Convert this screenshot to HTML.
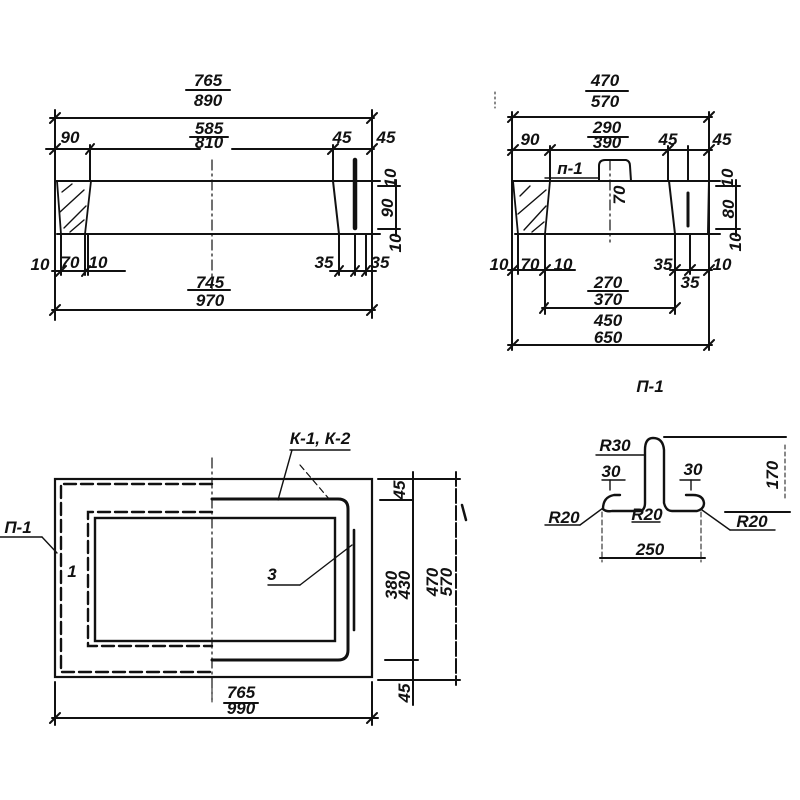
<!DOCTYPE html>
<html><head><meta charset="utf-8"><style>
html,body{margin:0;padding:0;background:#fff;}
svg{display:block}
text{font-family:"Liberation Sans","DejaVu Sans",sans-serif;font-style:italic;fill:#111;font-size:17px;font-weight:600}
</style></head><body>
<svg width="800" height="800" viewBox="0 0 800 800" xmlns="http://www.w3.org/2000/svg">
<g stroke="#111" fill="none" stroke-width="2" stroke-linecap="round">
<!-- ===== Top-left view ===== -->
<line x1="186" y1="90" x2="230" y2="90"/>
<line x1="50" y1="118" x2="374" y2="118"/>
<line x1="55" y1="110" x2="55" y2="320"/>
<line x1="372" y1="110" x2="372" y2="318"/>
<line x1="46" y1="149" x2="200" y2="149"/>
<line x1="232" y1="149" x2="374" y2="149"/>
<line x1="90" y1="145" x2="90" y2="181"/>
<line x1="333" y1="145" x2="333" y2="181"/>
<line x1="190" y1="137" x2="228" y2="137"/>
<!-- body -->
<line x1="55" y1="181" x2="380" y2="181"/>
<line x1="57" y1="234" x2="380" y2="234"/>
<path d="M57 181 L91 181 L85 234 L61 234 Z" stroke-width="1.8"/>
<path d="M62 192 L72 184 M60 212 L84 190 M64 228 L86 206 M70 232 L84 220" stroke-width="1.4"/>
<line x1="333" y1="181" x2="339" y2="234"/>
<line x1="372" y1="181" x2="372" y2="234"/>
<line x1="355" y1="160" x2="355" y2="228" stroke-width="4.5"/>
<line x1="212" y1="160" x2="212" y2="290" stroke-dasharray="10,4,2,4" stroke-width="1.2"/>
<!-- right dims -->
<line x1="378" y1="186" x2="400" y2="186"/>
<line x1="378" y1="229" x2="400" y2="229"/>
<line x1="396" y1="180" x2="396" y2="236"/>
<!-- bottom dims -->
<line x1="61" y1="234" x2="61" y2="275"/>
<line x1="85" y1="234" x2="85" y2="275"/>
<line x1="88" y1="234" x2="88" y2="275"/>
<line x1="339" y1="234" x2="339" y2="275"/>
<line x1="355" y1="234" x2="355" y2="275"/>
<line x1="366" y1="234" x2="366" y2="275"/>
<line x1="52" y1="271" x2="125" y2="271"/>
<line x1="330" y1="271" x2="376" y2="271"/>
<line x1="188" y1="290" x2="230" y2="290"/>
<line x1="52" y1="310" x2="375" y2="310"/>
<path d="M50 123 L60 113 M367 123 L377 113 M50 154 L60 144 M86 154 L94 144 M328 154 L338 144 M367 154 L377 144 M56 276 L66 266 M82 276 L90 266 M335 276 L343 266 M351 276 L359 266 M362 276 L370 266 M50 315 L60 305 M367 315 L377 305"/>

<!-- ===== Top-right view ===== -->
<line x1="586" y1="91" x2="628" y2="91"/>
<line x1="508" y1="117" x2="712" y2="117"/>
<line x1="512" y1="112" x2="512" y2="350"/>
<line x1="709" y1="112" x2="709" y2="350"/>
<line x1="508" y1="150" x2="712" y2="150"/>
<line x1="588" y1="137" x2="628" y2="137"/>
<line x1="550" y1="146" x2="550" y2="181"/>
<line x1="668" y1="146" x2="668" y2="181"/>
<line x1="688" y1="146" x2="688" y2="181"/>
<line x1="495" y1="92" x2="495" y2="108" stroke-dasharray="2,3" stroke-width="1"/>
<line x1="512" y1="181" x2="720" y2="181"/>
<line x1="515" y1="234" x2="720" y2="234"/>
<path d="M513 181 L550 181 L545 234 L518 234 Z" stroke-width="1.8"/>
<path d="M520 196 L530 186 M518 214 L546 190 M524 230 L546 206 M532 232 L544 222" stroke-width="1.4"/>
<line x1="669" y1="181" x2="675" y2="234"/>
<line x1="709" y1="181" x2="708" y2="234"/>
<line x1="688" y1="193" x2="688" y2="226" stroke-width="3"/>
<path d="M599 181 L599 166 Q599 160 605 160 L626 160 Q630 161 630 166 L631 181"/>
<line x1="545" y1="178" x2="598" y2="178" stroke-width="1.4"/>
<line x1="610" y1="160" x2="610" y2="242" stroke-dasharray="10,4,2,4" stroke-width="1.2"/>
<line x1="716" y1="186" x2="740" y2="186"/>
<line x1="716" y1="229" x2="740" y2="229"/>
<line x1="736" y1="180" x2="736" y2="236"/>
<line x1="545" y1="234" x2="545" y2="314"/>
<line x1="675" y1="234" x2="675" y2="314"/>
<line x1="518" y1="234" x2="518" y2="274"/>
<line x1="690" y1="234" x2="690" y2="274"/>
<line x1="508" y1="270" x2="575" y2="270"/>
<line x1="670" y1="270" x2="712" y2="270"/>
<line x1="588" y1="291" x2="628" y2="291"/>
<line x1="542" y1="308" x2="675" y2="308"/>
<line x1="508" y1="345" x2="712" y2="345"/>
<path d="M508 122 L518 112 M704 122 L714 112 M508 155 L518 145 M545 155 L555 145 M663 155 L673 145 M704 155 L714 145 M508 275 L518 265 M540 275 L550 265 M670 275 L680 265 M685 275 L695 265 M704 275 L714 265 M540 313 L548 303 M670 313 L680 303 M508 350 L518 340 M704 350 L714 340"/>

<!-- ===== P-1 detail ===== -->
<path d="M603 509 Q603 497 614 495 L620 495" stroke-width="2.4"/>
<path d="M603 509 Q606 512 612 511 L641 511 Q645 509 645 503 L645 450 Q645 438 653 438 Q663 438 664 450 L664 503 Q666 511 672 511 L697 511 Q704 509 704 503 Q703 495 693 495 L686 495" stroke-width="2.4"/>
<line x1="596" y1="455" x2="645" y2="455" stroke-width="1.4"/>
<line x1="664" y1="437" x2="786" y2="437"/>
<line x1="785" y1="445" x2="785" y2="500" stroke-dasharray="4,3" stroke-width="1"/>
<line x1="725" y1="512" x2="790" y2="512"/>
<line x1="602" y1="480" x2="625" y2="480" stroke-width="1.4"/>
<line x1="680" y1="480" x2="700" y2="480" stroke-width="1.4"/>
<line x1="610" y1="480" x2="610" y2="490" stroke-width="1.4"/>
<line x1="691" y1="480" x2="691" y2="490" stroke-width="1.4"/>
<line x1="545" y1="525" x2="580" y2="525" stroke-width="1.4"/>
<line x1="580" y1="525" x2="603" y2="508" stroke-width="1.4"/>
<line x1="702" y1="510" x2="730" y2="530" stroke-width="1.4"/>
<line x1="730" y1="530" x2="775" y2="530" stroke-width="1.4"/>
<line x1="632" y1="522" x2="660" y2="522" stroke-width="1.4"/>
<line x1="602" y1="512" x2="602" y2="562" stroke-dasharray="5,3" stroke-width="1"/>
<line x1="701" y1="512" x2="701" y2="562" stroke-dasharray="5,3" stroke-width="1"/>
<line x1="600" y1="558" x2="705" y2="558"/>

<!-- ===== Plan view ===== -->
<rect x="55" y="479" width="317" height="198" stroke-width="2.2"/>
<path d="M212 484 L61 484 L61 672 L212 672" stroke-dasharray="12,5" stroke-width="2.4"/>
<path d="M212 512 L88 512 L88 646 L212 646" stroke-dasharray="12,5" stroke-width="2.4"/>
<rect x="95" y="518" width="240" height="123" stroke-width="2.4"/>
<path d="M212 499 L338 499 Q348 499 348 509 L348 650 Q348 660 338 660 L212 660" stroke-width="3"/>
<line x1="354" y1="530" x2="354" y2="630" stroke-width="2.6"/>
<line x1="212" y1="458" x2="212" y2="700" stroke-dasharray="10,4,2,4" stroke-width="1.2"/>
<!-- right dims -->
<line x1="378" y1="479" x2="460" y2="479"/>
<line x1="380" y1="500" x2="413" y2="500"/>
<line x1="385" y1="660" x2="418" y2="660"/>
<line x1="378" y1="680" x2="460" y2="680"/>
<line x1="413" y1="472" x2="413" y2="705"/>
<line x1="456" y1="472" x2="456" y2="685" stroke-dasharray="14,3"/>
<line x1="462" y1="505" x2="466" y2="520" stroke-width="2.5"/>
<!-- bottom dim -->
<line x1="55" y1="682" x2="55" y2="725"/>
<line x1="372" y1="682" x2="372" y2="725"/>
<line x1="212" y1="680" x2="212" y2="702" stroke-width="1"/>
<line x1="52" y1="718" x2="378" y2="718"/>
<line x1="224" y1="703" x2="258" y2="703"/>
<path d="M50 723 L60 713 M367 723 L377 713"/>
<!-- leaders -->
<line x1="290" y1="450" x2="350" y2="450" stroke-width="1.4"/>
<line x1="292" y1="450" x2="278" y2="500" stroke-width="1.4"/>
<line x1="300" y1="465" x2="330" y2="500" stroke-width="1.2" stroke-dasharray="6,4"/>
<line x1="0" y1="537" x2="42" y2="537" stroke-width="1.4"/>
<line x1="42" y1="537" x2="57" y2="553" stroke-width="1.4"/>
<line x1="268" y1="585" x2="300" y2="585" stroke-width="1.4"/>
<line x1="300" y1="585" x2="352" y2="545" stroke-width="1.4"/>
</g>

<!-- ===== Text ===== -->
<g>
<text x="208" y="86" text-anchor="middle">765</text>
<text x="208" y="106" text-anchor="middle">890</text>
<text x="70" y="143" text-anchor="middle">90</text>
<text x="209" y="134" text-anchor="middle" font-size="15">585</text>
<text x="209" y="148" text-anchor="middle" font-size="13">810</text>
<text x="342" y="143" text-anchor="middle">45</text>
<text x="386" y="143" text-anchor="middle">45</text>
<text x="40" y="270" text-anchor="middle">10</text>
<text x="70" y="268" text-anchor="middle">70</text>
<text x="98" y="268" text-anchor="middle">10</text>
<text x="324" y="268" text-anchor="middle">35</text>
<text x="380" y="268" text-anchor="middle">35</text>
<text x="210" y="288" text-anchor="middle">745</text>
<text x="210" y="306" text-anchor="middle">970</text>
<text transform="translate(396,178) rotate(-90)" text-anchor="middle">10</text>
<text transform="translate(393,208) rotate(-90)" text-anchor="middle">90</text>
<text transform="translate(401,243) rotate(-90)" text-anchor="middle">10</text>

<text x="605" y="86" text-anchor="middle">470</text>
<text x="605" y="107" text-anchor="middle">570</text>
<text x="530" y="145" text-anchor="middle">90</text>
<text x="607" y="133" text-anchor="middle">290</text>
<text x="607" y="148" text-anchor="middle">390</text>
<text x="668" y="145" text-anchor="middle">45</text>
<text x="722" y="145" text-anchor="middle">45</text>
<text x="570" y="174" text-anchor="middle" font-size="14">п-1</text>
<text transform="translate(625,195) rotate(-90)" text-anchor="middle" font-size="14">70</text>
<text transform="translate(733,178) rotate(-90)" text-anchor="middle">10</text>
<text transform="translate(734,209) rotate(-90)" text-anchor="middle">80</text>
<text transform="translate(741,242) rotate(-90)" text-anchor="middle">10</text>
<text x="499" y="270" text-anchor="middle">10</text>
<text x="530" y="270" text-anchor="middle">70</text>
<text x="563" y="270" text-anchor="middle">10</text>
<text x="663" y="270" text-anchor="middle">35</text>
<text x="690" y="288" text-anchor="middle">35</text>
<text x="722" y="270" text-anchor="middle">10</text>
<text x="608" y="288" text-anchor="middle">270</text>
<text x="608" y="305" text-anchor="middle">370</text>
<text x="608" y="326" text-anchor="middle">450</text>
<text x="608" y="343" text-anchor="middle">650</text>

<text x="650" y="392" text-anchor="middle" font-size="19">П-1</text>
<text x="615" y="451" text-anchor="middle">R30</text>
<text x="611" y="477" text-anchor="middle" font-size="14">30</text>
<text x="693" y="475" text-anchor="middle" font-size="14">30</text>
<text x="564" y="523" text-anchor="middle">R20</text>
<text x="647" y="520" text-anchor="middle" font-size="14">R20</text>
<text x="752" y="527" text-anchor="middle">R20</text>
<text x="650" y="555" text-anchor="middle">250</text>
<text transform="translate(778,475) rotate(-90)" text-anchor="middle">170</text>

<text x="320" y="444" text-anchor="middle">К-1, К-2</text>
<text x="18" y="533" text-anchor="middle">П-1</text>
<text x="72" y="577" text-anchor="middle" font-size="15">1</text>
<text x="272" y="580" text-anchor="middle">3</text>
<text x="241" y="698" text-anchor="middle" font-size="15">765</text>
<text x="241" y="714" text-anchor="middle" font-size="15">990</text>
<text transform="translate(405,490) rotate(-90)" text-anchor="middle" font-size="15">45</text>
<text transform="translate(397,585) rotate(-90)" text-anchor="middle" font-size="15">380</text>
<text transform="translate(410,585) rotate(-90)" text-anchor="middle" font-size="15">430</text>
<text transform="translate(438,582) rotate(-90)" text-anchor="middle" font-size="15">470</text>
<text transform="translate(452,582) rotate(-90)" text-anchor="middle" font-size="15">570</text>
<text transform="translate(410,693) rotate(-90)" text-anchor="middle" font-size="15">45</text>
</g>
</svg>
</body></html>
